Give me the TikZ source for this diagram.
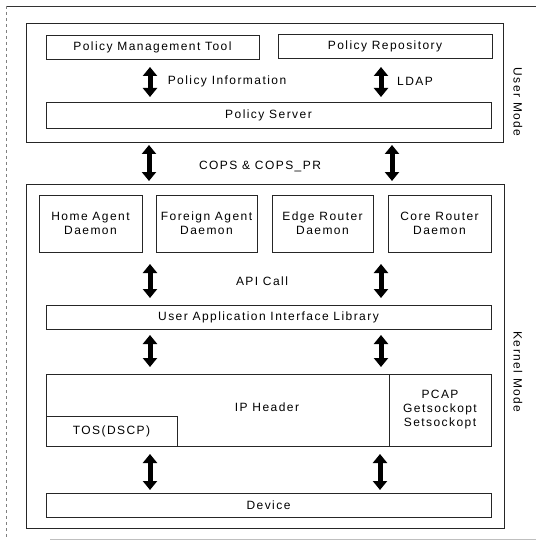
\documentclass[tikz,border=0pt]{standalone}
\usepackage{fontspec}
\setmainfont{Liberation Sans}[LetterSpace=12]
\usetikzlibrary{arrows.meta}
\begin{document}
\begin{tikzpicture}[x=1pt,y=-1pt,
  box/.style={draw=black!85,line width=0.8pt,rectangle,inner sep=0pt,font=\fontsize{12}{14}\selectfont},
  lbl/.style={inner sep=0pt,font=\fontsize{12}{14}\selectfont},
  biarrow/.style={line width=5pt,{Triangle[width=14pt,length=9pt]}-{Triangle[width=14pt,length=9pt]}}]
\useasboundingbox (0,0) rectangle (536,540);
% outer scan frame
\draw[line width=0.8pt,black!80] (6,6) -- (536,6);
\draw[line width=0.6pt,black!50,dashed] (6,6) -- (6,540);
\draw[line width=0.6pt,black!25] (50,539) -- (536,539);
% user mode
\node[box,minimum width=477pt,minimum height=119pt] (user) at (264.5,82.5) {};
\node[box,minimum width=213pt,minimum height=24pt] (pmt) at (152.5,47) {Policy Management Tool};
\node[box,minimum width=214pt,minimum height=24pt] (prep) at (385,46) {Policy Repository};
\node[box,minimum width=445pt,minimum height=26pt] (pserver) at (268.5,115.5) {Policy Server};
\node[lbl] (polinfo) at (227,81) {Policy Information};
\node[lbl] (ldap) at (415,81) {LDAP};
\node[lbl,rotate=-90] (usermode) at (518,102) {User Mode};
% kernel mode
\node[box,minimum width=478pt,minimum height=344pt] (kernel) at (265,356) {};
\node[box,minimum width=103pt,minimum height=57pt,align=center] (home) at (90.5,223.5) {Home Agent\\Daemon};
\node[box,minimum width=101pt,minimum height=57pt,align=center] (foreign) at (206.5,223.5) {Foreign Agent\\Daemon};
\node[box,minimum width=101pt,minimum height=57pt,align=center] (edge) at (322.5,223.5) {Edge Router\\Daemon};
\node[box,minimum width=103pt,minimum height=57pt,align=center] (core) at (439.5,223.5) {Core Router\\Daemon};
\node[lbl] (api) at (262,281) {API Call};
\node[box,minimum width=445pt,minimum height=24pt] (uail) at (268.5,317) {User Application Interface Library};
\node[box,minimum width=445pt,minimum height=72pt] (ip) at (268.5,410) {};
\node[lbl] (iphdr) at (267,407) {IP Header};
\node[box,minimum width=102pt,minimum height=72pt,align=center] (pcap) at (440,410) {PCAP\\Getsockopt\\Setsockopt};
\node[box,minimum width=131pt,minimum height=30pt] (tos) at (111.5,431) {TOS(DSCP)};
\node[box,minimum width=445pt,minimum height=24pt] (device) at (268.5,505) {Device};
\node[lbl,rotate=-90] (kernelmode) at (518,372) {Kernel Mode};
\node[lbl] (cops) at (260,167) {COPS \& COPS\_PR};
% arrow end points
\coordinate (a1t) at (150,67);  \coordinate (a1b) at (150,97);
\coordinate (a2t) at (381,67);  \coordinate (a2b) at (381,97);
\coordinate (a3t) at (149,145); \coordinate (a3b) at (149,181);
\coordinate (a4t) at (392,145); \coordinate (a4b) at (392,181);
\coordinate (a5t) at (150,264); \coordinate (a5b) at (150,298);
\coordinate (a6t) at (381,264); \coordinate (a6b) at (381,298);
\coordinate (a7t) at (150,335); \coordinate (a7b) at (150,367);
\coordinate (a8t) at (381,335); \coordinate (a8b) at (381,367);
\coordinate (a9t) at (150,454); \coordinate (a9b) at (150,490);
\coordinate (a10t) at (380,454); \coordinate (a10b) at (380,490);
\foreach \i in {1,...,10} {\draw[biarrow] (a\i t) -- (a\i b);}
\end{tikzpicture}
\end{document}
